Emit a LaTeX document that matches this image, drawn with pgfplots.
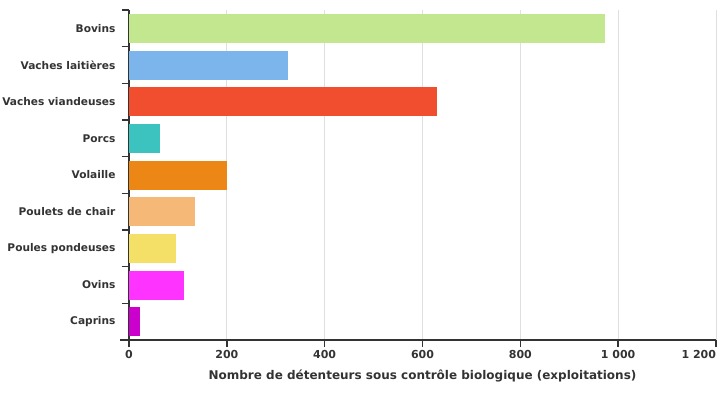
\documentclass[border=0pt]{standalone}
\usepackage{pgfplots}
\pgfplotsset{compat=1.18}
\usepackage{fontspec}
\setmainfont{DejaVu Sans}
\definecolor{txt}{HTML}{333333}
\definecolor{c1}{HTML}{C3E78F}
\definecolor{c2}{HTML}{7CB5EC}
\definecolor{c3}{HTML}{F04E2F}
\definecolor{c4}{HTML}{3CC2BF}
\definecolor{c5}{HTML}{EC8615}
\definecolor{c6}{HTML}{F5B877}
\definecolor{c7}{HTML}{F4E067}
\definecolor{c8}{HTML}{FF33FF}
\definecolor{c9}{HTML}{CC00CC}
\begin{document}
\begin{tikzpicture}[x=1pt,y=1pt]
\path[use as bounding box] (-129,-60) rectangle (596,340);
\begin{axis}[
  at={(0,0)}, anchor=south west,
  scale only axis, width=587pt, height=330pt,
  xmin=0, xmax=1200, ymin=-0.5, ymax=8.5, y dir=reverse,
  axis x line*=bottom, axis y line*=left,
  axis line style={txt, line width=1.6pt, -},
  xtick={0,200,...,1200},
  xticklabels={0,200,400,600,800,1\ 000,\llap{1\ 200}},
  xmajorgrids, grid style={gray!25, line width=0.8pt},
  ytick={0,...,8},
  yticklabels={Bovins,Vaches laitières,Vaches viandeuses,Porcs,Volaille,Poulets de chair,Poules pondeuses,Ovins,Caprins},
  minor ytick={-0.5,0.5,...,8.5},
  tick align=outside,
  major tick length=7pt, minor tick length=7pt,
  tick style={txt, line width=1.6pt},
  y tick style={draw=none},
  minor y tick style={draw=txt, line width=1.6pt},
  ticklabel style={font=\bfseries\fontsize{11}{13}\selectfont, text=txt},
  yticklabel style={xshift=-3pt, font=\bfseries\fontsize{10.6}{13}\selectfont},
  xticklabel style={yshift=0pt},
  xlabel={Nombre de détenteurs sous contrôle biologique (exploitations)},
  xlabel style={font=\bfseries\fontsize{12}{14}\selectfont, text=txt, yshift=-4pt},
  xbar, bar width=29pt, bar shift=0pt,
  clip=false,
]
\addplot[fill=c1, draw=none] coordinates {(973,0)};
\addplot[fill=c2, draw=none] coordinates {(325,1)};
\addplot[fill=c3, draw=none] coordinates {(630,2)};
\addplot[fill=c4, draw=none] coordinates {(63,3)};
\addplot[fill=c5, draw=none] coordinates {(200,4)};
\addplot[fill=c6, draw=none] coordinates {(135,5)};
\addplot[fill=c7, draw=none] coordinates {(96,6)};
\addplot[fill=c8, draw=none] coordinates {(112,7)};
\addplot[fill=c9, draw=none] coordinates {(22,8)};
\draw[txt, line width=1.6pt] ([xshift=-9pt]axis cs:0,8.5) -- (axis cs:0,8.5);
\end{axis}
\end{tikzpicture}
\end{document}
